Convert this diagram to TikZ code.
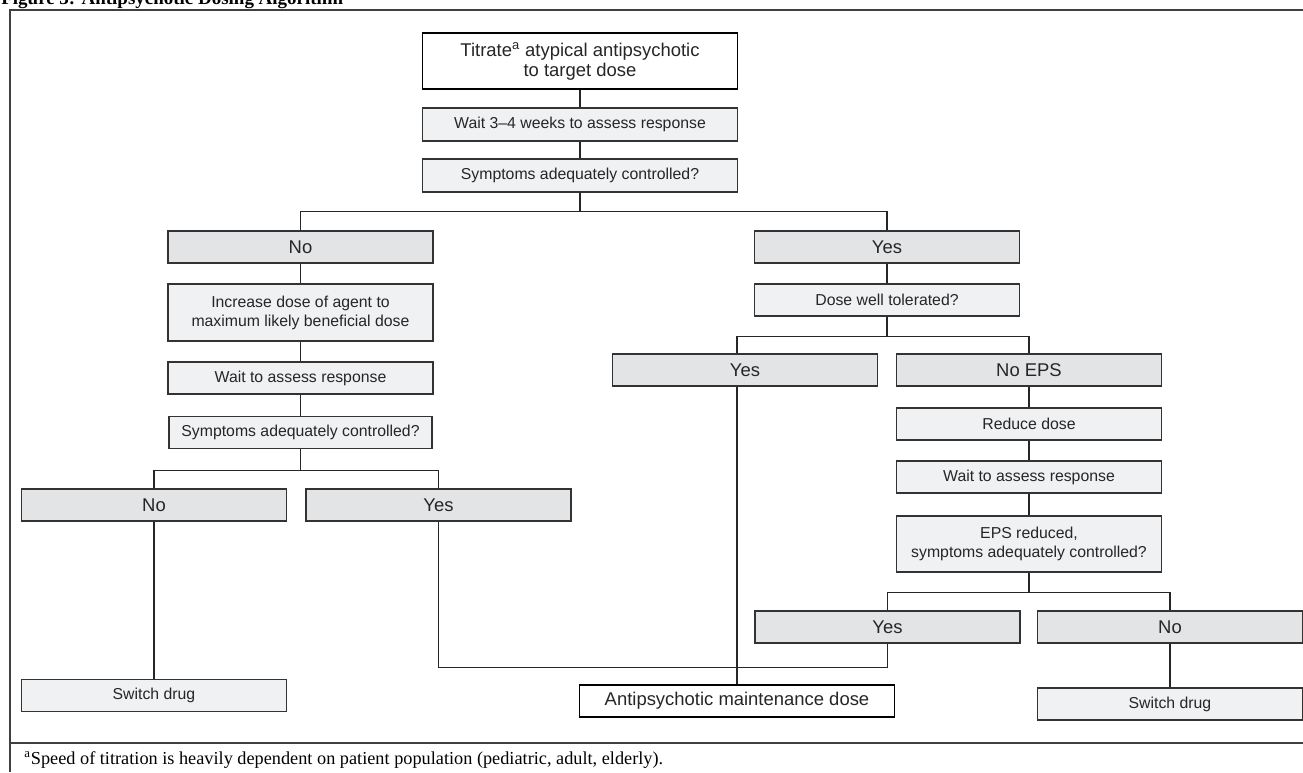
\documentclass[tikz,border=0pt]{standalone}
\usepackage{fontspec}
\setmainfont{Liberation Serif}
\setsansfont{Liberation Sans}
\usepackage{xcolor}
\usepackage{tikz}
\definecolor{choicegray}{HTML}{E3E4E6}
\definecolor{stepgray}{HTML}{F0F1F2}
\definecolor{inkgray}{HTML}{333333}

\begin{document}
\begin{tikzpicture}[x=0.02cm, y=-0.02cm,
    box/.style={draw=inkgray, line width=0.9pt, text=black!85, font=\sffamily\fontsize{9}{10.8}\selectfont,
        align=center, inner sep=0pt, minimum height=0.64cm, minimum width=5.3cm},
    actionbox/.style={box, fill=stepgray},
    choicebox/.style={box, fill=choicegray, font=\sffamily\fontsize{10.5}{12.6}\selectfont},
    endbox/.style={box, fill=white, draw=black, font=\sffamily\fontsize{10.5}{11.4}\selectfont, minimum width=6.3cm},
    link/.style={draw=black!85, line width=0.65pt},
    rule/.style={draw=black!75, line width=1.1pt}]
    \useasboundingbox (0,0) rectangle (1303,772);

    % Caption and frame
    \node[anchor=base west, inner sep=0pt, font=\bfseries\fontsize{10.8}{12}\selectfont] (Title) at (1,4.5) {Figure 3: Antipsychotic Dosing Algorithm};
    \draw[rule] (10,772) -- (10,10) -- (1310,10);
    \draw[rule] (10,743) -- (1310,743);
    \node[anchor=base west, inner sep=0pt, font=\fontsize{10.4}{12}\selectfont] (Footnote) at (24,764) {\textsuperscript{a}Speed of titration is heavily dependent on patient population (pediatric, adult, elderly).};

    % Start of the algorithm
    \node[endbox, minimum height=1.12cm] (Titrate) at (580,61) {Titrate\textsuperscript{a} atypical antipsychotic\\to target dose};
    \node[actionbox, minimum width=6.3cm, minimum height=0.66cm] (WaitFirst) at (580,124.5) {Wait 3--4 weeks to assess response};
    \node[actionbox, minimum width=6.3cm, minimum height=0.66cm] (Controlled) at (580,175.5) {Symptoms adequately controlled?};

    % First answer
    \node[choicebox] (No) at (300.5,247) {No};
    \node[choicebox] (Yes) at (887,247) {Yes};

    % Not controlled: raise the dose
    \node[actionbox, minimum height=1.14cm] (Increase) at (300.5,312.5) {Increase dose of agent to\\maximum likely beneficial dose};
    \node[actionbox] (WaitLeft) at (300.5,378) {Wait to assess response};
    \node[actionbox, minimum width=5.26cm] (ControlledLeft) at (300.5,432.5) {Symptoms adequately controlled?};
    \node[choicebox] (NoLeft) at (154,505) {No};
    \node[choicebox] (YesLeft) at (438.5,505) {Yes};
    \node[actionbox] (SwitchLeft) at (154,695.5) {Switch drug};

    % Controlled: check tolerance
    \node[actionbox] (Tolerated) at (887,300) {Dose well tolerated?};
    \node[choicebox] (YesTolerated) at (745,370) {Yes};
    \node[choicebox] (NoEPS) at (1029,370) {No EPS};
    \node[actionbox] (Reduce) at (1029,424) {Reduce dose};
    \node[actionbox] (WaitRight) at (1029,477) {Wait to assess response};
    \node[actionbox, minimum height=1.12cm] (EPSReduced) at (1029,544) {EPS reduced,\\symptoms adequately controlled?};
    \node[choicebox] (YesRight) at (887.5,627) {Yes};
    \node[choicebox] (NoRight) at (1170,627) {No};
    \node[actionbox] (SwitchRight) at (1170,704) {Switch drug};
    \node[endbox] (Maintenance) at (737,701) {Antipsychotic maintenance dose};

    % Main stem
    \draw[link] (Titrate) -- (WaitFirst);
    \draw[link] (WaitFirst) -- (Controlled);
    \draw[link] (Controlled.south) -- ++(0,18.7) -| (No.north);
    \draw[link] (Controlled.south) -- ++(0,18.7) -| (Yes.north);

    % Left stem
    \draw[link] (No) -- (Increase);
    \draw[link] (Increase) -- (WaitLeft);
    \draw[link] (WaitLeft) -- (ControlledLeft);
    \draw[link] (ControlledLeft.south) -- ++(0,21) -| (NoLeft.north);
    \draw[link] (ControlledLeft.south) -- ++(0,21) -| (YesLeft.north);
    \draw[link] (NoLeft) -- (SwitchLeft);
    \draw[link] (YesLeft.south) -- ++(0,146) -| (YesRight.south);

    % Right stem
    \draw[link] (Yes) -- (Tolerated);
    \draw[link] (Tolerated.south) -- ++(0,19.7) -| (Maintenance.north |- YesTolerated.north);
    \draw[link] (Tolerated.south) -- ++(0,19.7) -| (NoEPS.north);
    \draw[link] (Maintenance.north |- YesTolerated.south) -- (Maintenance.north);
    \draw[link] (NoEPS) -- (Reduce);
    \draw[link] (Reduce) -- (WaitRight);
    \draw[link] (WaitRight) -- (EPSReduced);
    \draw[link] (EPSReduced.south) -- ++(0,20) -| (YesRight.north);
    \draw[link] (EPSReduced.south) -- ++(0,20) -| (NoRight.north);
    \draw[link] (NoRight) -- (SwitchRight);
\end{tikzpicture}
\end{document}
